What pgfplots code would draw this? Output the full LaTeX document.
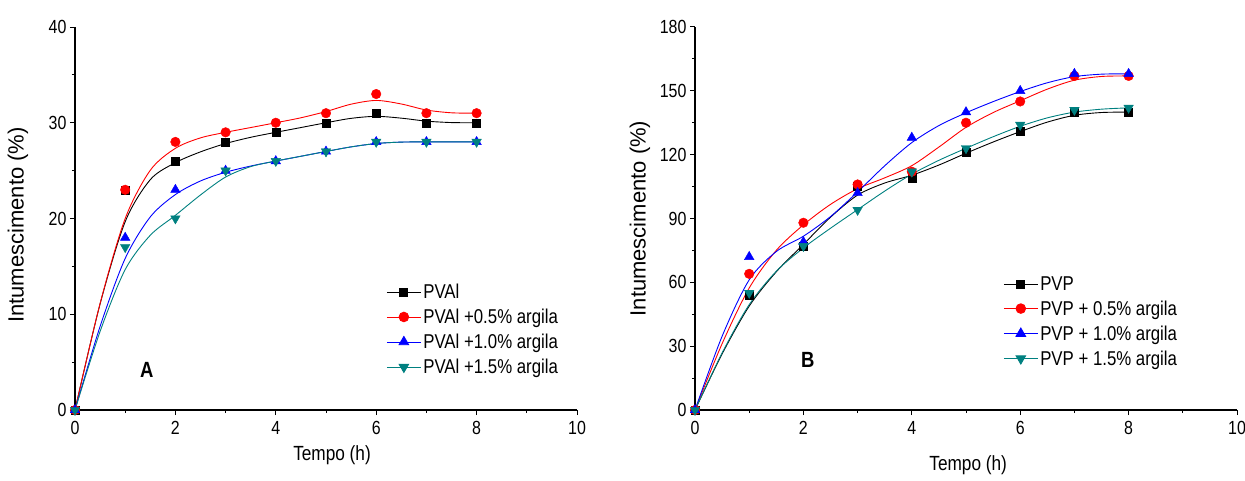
\documentclass[border=0pt]{standalone}
\usepackage{pgfplots}
\pgfplotsset{compat=1.18}
\usepackage{fontspec}
\setmainfont{Liberation Sans}[FakeStretch=0.84]
\newfontfamily\ylabfont{Liberation Sans}
\definecolor{tealc}{RGB}{0,128,128}

\pgfplotsset{
  intum/.style={
    scale only axis, height=383pt,
    axis lines=left, axis line style={-, line width=1.2pt},
    tick align=outside, major tick length=5pt, minor tick length=3pt,
    every tick/.style={line width=1pt, black},
    xmin=0, xmax=10, xtick={0,2,...,10}, minor x tick num=1,
    minor y tick num=1, ymin=0,
    ticklabel style={font=\fontsize{19}{21}\selectfont},
    xticklabel style={yshift=-3pt},
    /pgf/number format/assume math mode=true,
    xlabel style={font=\fontsize{20.5}{22}\selectfont, anchor=center},
    ylabel style={font=\ylabfont\fontsize{22}{24}\selectfont, anchor=center},
    xlabel={Tempo (h)}, ylabel={Intumescimento (\%)},
    clip=false,
    legend cell align=left,
    legend style={draw=none, fill=none, anchor=north west,
      font=\fontsize{20}{22}\selectfont, row sep=5pt},
    legend image code/.code={\draw[mark repeat=2, mark phase=2]
      plot coordinates {(0pt,0pt) (17pt,0pt) (34pt,0pt)};},
  },
  curve/.style={line width=0.9pt, smooth, no marks, forget plot},
  pts/.style={only marks, forget plot},
  sq/.style={black, mark=square*, mark size=4pt},
  ci/.style={red, mark=*, mark size=4.8pt},
  tu/.style={blue, mark=triangle*, mark size=5.5pt},
  td/.style={tealc, mark=triangle*, mark size=5.5pt, mark options={rotate=180}},
}

\begin{document}
\begin{tikzpicture}
\path[use as bounding box] (0,0) rectangle (1245pt,480pt);

% ---- A: PVAl
\begin{axis}[intum, width=502pt, at={(75pt,70pt)}, anchor=south west,
  ymax=40, ytick={0,10,...,40},
  xlabel style={at={(axis description cs:0.512,-0.1175)}},
  ylabel style={at={(axis description cs:-0.1135,0.483)}},
  legend style={at={(axis description cs:0.614,0.34)}}]
\addplot[curve, black] table {
0 0
0.5 11.08
1 19.67
1.5 24.06
2 25.83
2.5 26.96
3 27.83
3.5 28.48
4 29.0
4.5 29.5
5 30.0
5.5 30.46
6 30.67
6.5 30.48
7 30.17
7.5 30.02
8 30
};
\addplot[pts, sq] table {
0 0
1 23
2 26
3 28
4 29
5 30
6 31
7 30
8 30
};
\addplot[curve, red] table {
0 0
0.5 11.13
1 20.0
1.5 25.04
2 27.33
2.5 28.42
3 29.0
3.5 29.5
4 30.0
4.5 30.52
5 31.17
5.5 31.94
6 32.33
6.5 31.96
7 31.33
7.5 31.04
8 31
};
\addplot[pts, ci] table {
0 0
1 23
2 28
3 29
4 30
5 31
6 33
7 31
8 31
};
\addplot[curve, blue] table {
0 0
0.5 8.73
1 15.83
1.5 20.17
2 22.5
2.5 23.92
3 24.83
3.5 25.48
4 26.0
4.5 26.5
5 27.0
5.5 27.48
6 27.83
6.5 27.98
7 28
7.5 28
8 28
};
\addplot[pts, tu] table {
0 0
1 18
2 23
3 25
4 26
5 27
6 28
7 28
8 28
};
\addplot[curve, tealc] table {
0 0
0.5 8.21
1 14.67
1.5 18.25
2 20.33
2.5 22.46
3 24.33
3.5 25.42
4 26.0
4.5 26.5
5 27.0
5.5 27.48
6 27.83
6.5 27.98
7 28
7.5 28
8 28
};
\addplot[pts, td] table {
0 0
1 17
2 20
3 25
4 26
5 27
6 28
7 28
8 28
};
\addlegendimage{sq, line width=0.9pt}
\addlegendentry{PVAl}
\addlegendimage{ci, line width=0.9pt}
\addlegendentry{PVAl +0.5\% argila}
\addlegendimage{tu, line width=0.9pt}
\addlegendentry{PVAl +1.0\% argila}
\addlegendimage{td, line width=0.9pt}
\addlegendentry{PVAl +1.5\% argila}
\node[font=\bfseries\fontsize{22}{24}\selectfont] at (axis cs:1.43,4.2) {A};
\end{axis}

% ---- B: PVP
\begin{axis}[intum, width=542pt, at={(695pt,70pt)}, anchor=south west,
  ymax=180, ytick={0,30,...,180},
  xlabel style={at={(axis description cs:0.504,-0.1436)}},
  ylabel style={at={(axis description cs:-0.1015,0.50)}},
  legend style={at={(axis description cs:0.563,0.36)}}]
\addplot[curve, black] table {
0 0
0.5 26.35
1 48.83
1.5 64.96
2 77.83
2.5 90.60
3 101.0
3.5 106.67
4 110.33
4.5 115.13
5 120.67
5.5 125.94
6 130.83
6.5 135.29
7 138.5
7.5 139.81
8 140
};
\addplot[pts, sq] table {
0 0
1 54
2 77
3 105
4 109
5 121
6 131
7 140
8 140
};
\addplot[curve, red] table {
0 0
0.5 31.17
1 57.33
1.5 75.04
2 87.0
2.5 96.63
3 104.0
3.5 109.10
4 114.83
4.5 123.58
5 132.83
5.5 139.77
6 145.33
6.5 150.79
7 155.0
7.5 156.75
8 157
};
\addplot[pts, ci] table {
0 0
1 64
2 88
3 106
4 112
5 135
6 145
7 157
8 157
};
\addplot[curve, blue] table {
0 0
0.5 34.65
1 61.17
1.5 74.48
2 81.67
2.5 90.90
3 102.5
3.5 114.77
4 125.67
4.5 133.67
5 139.67
5.5 144.92
6 149.67
6.5 153.79
7 156.67
7.5 157.83
8 158
};
\addplot[pts, tu] table {
0 0
1 72
2 79
3 102
4 128
5 140
6 150
7 158
8 158
};
\addplot[curve, tealc] table {
0 0
0.5 26.81
1 49.5
1.5 65.21
2 76.17
2.5 85.42
3 94.17
3.5 102.88
4 110.83
4.5 117.35
5 123.0
5.5 128.42
6 133.33
6.5 137.29
7 140.0
7.5 141.38
8 142
};
\addplot[pts, td] table {
0 0
1 55
2 77
3 94
4 112
5 123
6 134
7 141
8 142
};
\addlegendimage{sq, line width=0.9pt}
\addlegendentry{PVP}
\addlegendimage{ci, line width=0.9pt}
\addlegendentry{PVP + 0.5\% argila}
\addlegendimage{tu, line width=0.9pt}
\addlegendentry{PVP + 1.0\% argila}
\addlegendimage{td, line width=0.9pt}
\addlegendentry{PVP + 1.5\% argila}
\node[font=\bfseries\fontsize{22}{24}\selectfont] at (axis cs:2.08,23.5) {B};
\end{axis}
\end{tikzpicture}
\end{document}
